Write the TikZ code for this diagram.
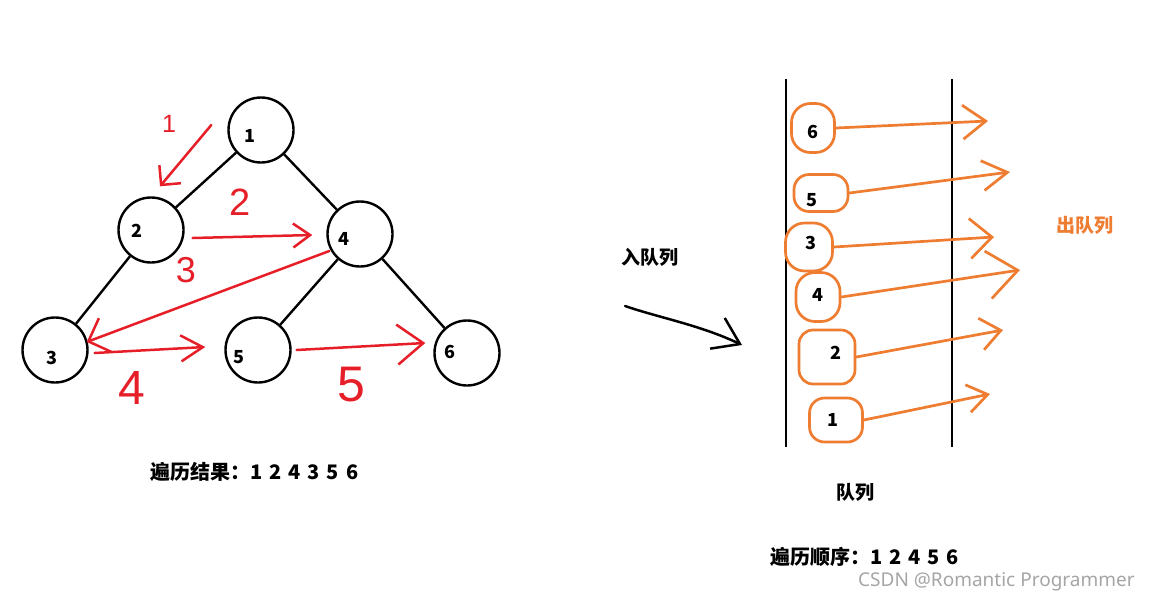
\documentclass[tikz,border=0pt]{standalone}
\usepackage{fontspec}
\newfontfamily\cjk{Noto Sans CJK SC}
\newfontfamily\hand{Liberation Sans}
\newfontfamily\wmark{Noto Sans}
\usetikzlibrary{arrows.meta}
\definecolor{bfsRed}{HTML}{E61E28}
\definecolor{bfsOrange}{HTML}{EE7D31}
\definecolor{bfsGray}{HTML}{A5A5A5}
\newcommand\gap{\hspace{7pt}}
\tikzset{
  bfs node/.style={circle, draw=black, line width=2.4pt, minimum size=65pt, inner sep=0pt},
  bfs edge/.style={draw=black, line width=2.4pt},
  bfs digit/.style={font=\cjk\bfseries\fontsize{18}{18}\selectfont, text=black, inner sep=0pt},
  bfs label/.style={font=\cjk\bfseries\fontsize{19}{19}\selectfont, text=black, inner sep=0pt},
  bfs result/.style={font=\cjk\bfseries\fontsize{20}{20}\selectfont, text=black, inner sep=0pt, anchor=west},
  bfs pen/.style={draw=bfsRed, line width=2.5pt, line cap=round, line join=round},
  bfs hand/.style={font=\hand, text=bfsRed, inner sep=0pt},
  queue wall/.style={draw=black, line width=2.5pt},
  queue blob/.style={draw=bfsOrange, line width=2.7pt, rounded corners=19pt, inner sep=0pt},
  queue pen/.style={draw=bfsOrange, line width=2.7pt, line cap=round, line join=round},
}

\begin{document}
\begin{tikzpicture}[x=1pt,y=-1pt]
  \useasboundingbox (0,0) rectangle (1151,603);
  % tree
  \node[bfs node] (n1) at (261,130) {};
  \node[bfs node] (n2) at (151,230) {};
  \node[bfs node] (n4) at (360,234) {};
  \node[bfs node] (n3) at (55,350) {};
  \node[bfs node] (n5) at (258,350) {};
  \node[bfs node] (n6) at (467,353) {};
  \node[bfs digit] (t1) at (250,136) {1};
  \node[bfs digit] (t2) at (137,231) {2};
  \node[bfs digit] (t4) at (344,239) {4};
  \node[bfs digit] (t3) at (52,358) {3};
  \node[bfs digit] (t5) at (239,357) {5};
  \node[bfs digit] (t6) at (450,352) {6};
  \draw[bfs edge] (n1) -- (n2);
  \draw[bfs edge] (n1) -- (n4);
  \draw[bfs edge] (n2) -- (n3);
  \draw[bfs edge] (n4) -- (n5);
  \draw[bfs edge] (n4) -- (n6);
  % visiting order, in red
  \draw[bfs pen,-{Straight Barb[length=14pt,width=28pt]}] ([shift={(-16,-5)}]n1.west) -- ([shift={(9,-10)}]n2.north);
  \draw[bfs pen,-{Straight Barb[length=17pt,width=24pt]}] ([shift={(8,8)}]n2.east) -- ([shift={(-14,1)}]n4.west);
  \draw[bfs pen,-{Straight Barb[length=18pt,width=36pt]}] ([shift={(3,17)}]n4.west) -- ([shift={(-2,-8)}]n3.east);
  \draw[bfs pen,-{Straight Barb[length=22pt,width=26pt]}] ([shift={(6,3)}]n3.east) -- ([shift={(-19,-3)}]n5.west);
  \draw[bfs pen,-{Straight Barb[length=26pt,width=40pt]}] ([shift={(5,0)}]n5.east) -- ([shift={(-8,-10)}]n6.west);
  \node[bfs hand,font=\hand\fontsize{25}{25}\selectfont] (h1) at (169,124) {1};
  \node[bfs hand,font=\hand\fontsize{38}{38}\selectfont] (h2) at (240,202) {2};
  \node[bfs hand,font=\hand\fontsize{36}{36}\selectfont] (h3) at (186,270) {3};
  \node[bfs hand,font=\hand\fontsize{48}{48}\selectfont] (h4) at (132,388) {4};
  \node[bfs hand,font=\hand\fontsize{50}{50}\selectfont] (h5) at (351,385) {5};
  \node[bfs result] (res) at (150,472) {遍历结果：1\gap2\gap4\gap3\gap5\gap6};
  % queue
  \coordinate (wl top) at (786,79);
  \coordinate (wl bot) at (786,447);
  \coordinate (wr top) at (952,79);
  \coordinate (wr bot) at (952,447);
  \draw[queue wall] (wl top) -- (wl bot);
  \draw[queue wall] (wr top) -- (wr bot);
  \node[queue blob,minimum width=43pt,minimum height=49pt] (b6) at (813,128) {};
  \node[queue blob,minimum width=54pt,minimum height=37pt,rounded corners=15pt] (b5) at (821,193) {};
  \node[queue blob,minimum width=47pt,minimum height=48pt] (b3) at (809,247) {};
  \node[queue blob,minimum width=44pt,minimum height=49pt] (b4) at (818,297) {};
  \node[queue blob,minimum width=56pt,minimum height=54pt,rounded corners=14pt] (b2) at (827,357) {};
  \node[queue blob,minimum width=53pt,minimum height=44pt,rounded corners=15pt] (b1) at (836,420) {};
  \node[bfs digit] (q6) at (813,132) {6};
  \node[bfs digit] (q5) at (812,200) {5};
  \node[bfs digit] (q3) at (811,243) {3};
  \node[bfs digit] (q4) at (818,295) {4};
  \node[bfs digit] (q2) at (836,353) {2};
  \node[bfs digit] (q1) at (833,420) {1};
  \coordinate (o6) at (988,121);
  \coordinate (o5) at (1010,172);
  \coordinate (o3) at (994,237);
  \coordinate (o4) at (1020,270);
  \coordinate (o2) at (1003,330);
  \coordinate (o1) at (990,394);
  \draw[queue pen,-{Straight Barb[length=23pt,width=34pt]}] (b6.east) -- (o6);
  \draw[queue pen,-{Straight Barb[length=25pt,width=30pt]}] (b5.east) -- (o5);
  \draw[queue pen,-{Straight Barb[length=22pt,width=40pt]}] (b3.east) -- (o3);
  \draw[queue pen,-{Straight Barb[length=30pt,width=48pt]}] (b4.east) -- (o4);
  \draw[queue pen,-{Straight Barb[length=20pt,width=32pt]}] (b2.east) -- (o2);
  \draw[queue pen,-{Straight Barb[length=20pt,width=28pt]}] (b1.east) -- (o1);
  \coordinate (enq a) at (625,306);
  \coordinate (enq b) at (742,345);
  \draw[black,line width=2.5pt,line cap=round,-{Straight Barb[length=25pt,width=34pt]}] (enq a) .. controls (660,318) and (700,325) .. (enq b);
  \node[bfs label] (enq) at (650,257) {入队列};
  \node[bfs label,text=bfsOrange] (deq) at (1085,225) {出队列};
  \node[bfs label] (qname) at (855,492) {队列};
  \node[bfs result] (ord) at (770,557) {遍历顺序：1\gap2\gap4\gap5\gap6};
  \node[font=\wmark\fontsize{19}{19}\selectfont,text=bfsGray,anchor=west,inner sep=0pt] (wm) at (858,582) {CSDN @Romantic Programmer};
\end{tikzpicture}
\end{document}
